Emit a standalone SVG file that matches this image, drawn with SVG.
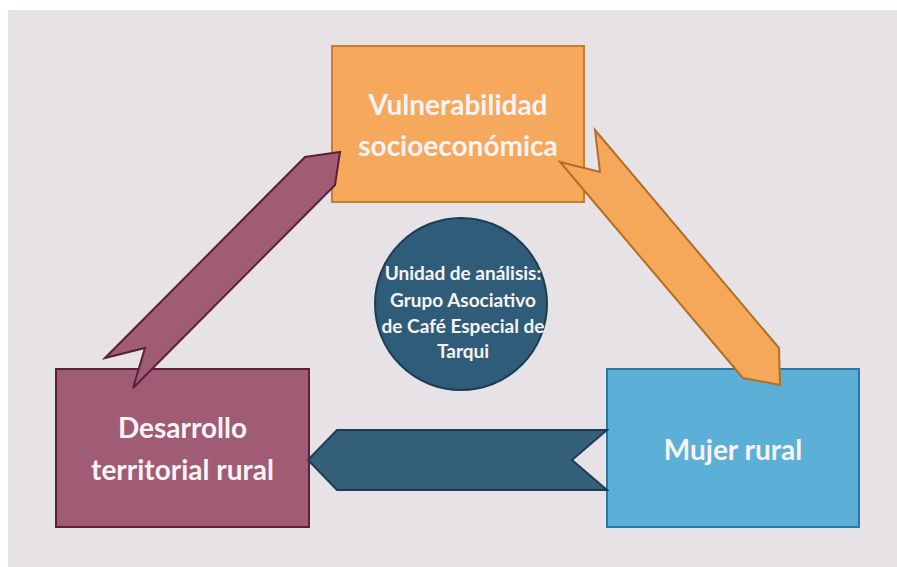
<svg xmlns="http://www.w3.org/2000/svg" width="897" height="567" viewBox="0 0 897 567">
<style>
.lbl{font-family:Lato,"Liberation Sans",sans-serif;font-weight:bold;fill:#f8f3f5;text-anchor:middle}
.big{font-size:28px}
.small{font-size:19px}
</style>
<rect x="0" y="0" width="897" height="567" fill="#ffffff"/>
<rect x="8" y="10" width="889" height="557" fill="#e7e2e5"/>
<g id="node-vulnerabilidad">
<rect x="332" y="46" width="252" height="156" fill="#f6a95c" stroke="#c47f32" stroke-width="2"/>
<text class="lbl big" x="458" y="115">Vulnerabilidad</text>
<text class="lbl big" x="458" y="156">socioeconómica</text>
</g>
<g id="node-desarrollo">
<rect x="56" y="369" width="253" height="158" fill="#a05c75" stroke="#5b1f37" stroke-width="2"/>
<text class="lbl big" x="182.5" y="438">Desarrollo</text>
<text class="lbl big" x="182.5" y="480">territorial rural</text>
</g>
<g id="node-mujer">
<rect x="607" y="369" width="252" height="158" fill="#5cafd6" stroke="#2a76a2" stroke-width="2"/>
<text class="lbl big" x="733" y="460">Mujer rural</text>
</g>
<g id="node-unidad">
<circle cx="461" cy="304" r="86" fill="#2f5d79" stroke="#1d3d54" stroke-width="2"/>
<text class="lbl small" x="463" y="280">Unidad de análisis:</text>
<text class="lbl small" x="463" y="307">Grupo Asociativo</text>
<text class="lbl small" x="463" y="333">de Café Especial de</text>
<text class="lbl small" x="463" y="358">Tarqui</text>
</g>
<g id="connectors" stroke-width="2" stroke-linejoin="miter">
<polygon points="560,162 600,172 595,130 779,348 780,385 743,378" fill="#f5a85a" stroke="#b06f28"/>
<polygon points="105,358 145,348 133,388 335,185 340,152 305,157" fill="#a05c75" stroke="#5b1f37"/>
<polygon points="308,460 337,430 607,430 572,460 607,490 337,490" fill="#356079" stroke="#1c3e55"/>
</g>
</svg>
